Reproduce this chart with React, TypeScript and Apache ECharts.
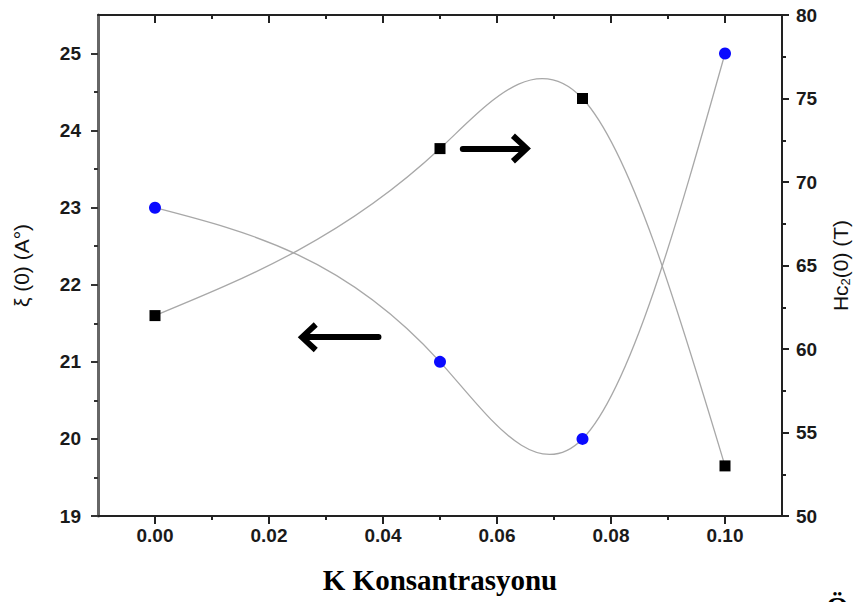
import React, { useEffect, useRef } from "react";
import * as echarts from "echarts";

const kValues = [0.0, 0.05, 0.075, 0.1];
const xiValues = [23, 21, 20, 25];
const hc2Values = [62, 72, 75, 53];
const xMajorTicks = [0.0, 0.02, 0.04, 0.06, 0.08, 0.1];
const xMinorTicks = [0.01, 0.03, 0.05, 0.07, 0.09];
const xiMajorTicks = [19, 20, 21, 22, 23, 24, 25];
const xiMinorTicks = [19.5, 20.5, 21.5, 22.5, 23.5, 24.5];
const rightArrow = [[0.054, 72], [0.0642, 72]];
const leftArrow = [[0.0392, 21.32], [0.0268, 21.32]];

const FONT = "'Liberation Sans', Arial, sans-serif";
const SERIF = "'Liberation Serif', 'Times New Roman', serif";
const CHEVRON = "path://M15,0 L30,16 L25.5,20 L15,8.5 L4.5,20 L0,16 Z";

// Natural cubic spline: node slopes, used to draw each segment as an exact cubic Bezier
function splineSlopes(xs: number[], ys: number[]): number[] {
  const n = xs.length;
  const h: number[] = [];
  for (let i = 0; i < n - 1; i++) h.push(xs[i + 1] - xs[i]);
  const M = new Array(n).fill(0);
  if (n > 2) {
    const m = n - 2;
    const a: number[] = [], b: number[] = [], c: number[] = [], d: number[] = [];
    for (let j = 0; j < m; j++) {
      const i = j + 1;
      a.push(h[i - 1]);
      b.push(2 * (h[i - 1] + h[i]));
      c.push(h[i]);
      d.push(6 * ((ys[i + 1] - ys[i]) / h[i] - (ys[i] - ys[i - 1]) / h[i - 1]));
    }
    for (let j = 1; j < m; j++) {
      const w = a[j] / b[j - 1];
      b[j] -= w * c[j - 1];
      d[j] -= w * d[j - 1];
    }
    const sol = new Array(m).fill(0);
    sol[m - 1] = d[m - 1] / b[m - 1];
    for (let j = m - 2; j >= 0; j--) sol[j] = (d[j] - c[j] * sol[j + 1]) / b[j];
    for (let j = 0; j < m; j++) M[j + 1] = sol[j];
  }
  const s: number[] = [];
  for (let i = 0; i < n - 1; i++) s.push((ys[i + 1] - ys[i]) / h[i] - (h[i] * (2 * M[i] + M[i + 1])) / 6);
  const k = n - 2;
  s.push((ys[k + 1] - ys[k]) / h[k] + (h[k] * (M[k] + 2 * M[k + 1])) / 6);
  return s;
}

function splineSeries(xs: number[], ys: number[], yAxisIndex: number) {
  const slopes = splineSlopes(xs, ys);
  return {
    type: "custom",
    coordinateSystem: "cartesian2d",
    xAxisIndex: 0,
    yAxisIndex,
    silent: true,
    z: 2,
    data: xs.map((x, i) => [x, ys[i]]),
    renderItem: (params: any, api: any) => {
      const i = params.dataIndex;
      if (i >= xs.length - 1) return null;
      const hh = xs[i + 1] - xs[i];
      const p0 = api.coord([xs[i], ys[i]]);
      const p1 = api.coord([xs[i] + hh / 3, ys[i] + (slopes[i] * hh) / 3]);
      const p2 = api.coord([xs[i + 1] - hh / 3, ys[i + 1] - (slopes[i + 1] * hh) / 3]);
      const p3 = api.coord([xs[i + 1], ys[i + 1]]);
      return {
        type: "bezierCurve",
        shape: { x1: p0[0], y1: p0[1], cpx1: p1[0], cpy1: p1[1], cpx2: p2[0], cpy2: p2[1], x2: p3[0], y2: p3[1] },
        style: { stroke: "#a8a8a8", lineWidth: 1.3, fill: null },
      };
    },
  };
}

export default function App() {
  const ref = useRef<HTMLDivElement>(null);
  useEffect(() => {
    if (!ref.current) return;
    const chart = echarts.init(ref.current, null, { renderer: "svg" });
    const axisLine = { show: true, onZero: false, lineStyle: { color: "#222", width: 2 } };
    const lbl = { color: "#1a1a1a", fontSize: 19, fontWeight: "bold", fontFamily: FONT };
    const xBase = { type: "value", min: -0.01, max: 0.11, splitLine: { show: false } };
    const arrowLine = (coords: number[][]) => ({
      silent: true,
      symbol: ["none", CHEVRON],
      symbolSize: [30, 20],
      label: { show: false },
      lineStyle: { color: "#000", width: 6, type: "solid", cap: "round", opacity: 1 },
      itemStyle: { color: "#000", opacity: 1 },
      emphasis: { disabled: true },
      data: [[{ coord: coords[0] }, { coord: coords[1] }]],
    });
    chart.setOption({
      animation: false,
      grid: { left: 98, right: 79, top: 15, bottom: 86, containLabel: false },
      xAxis: [
        {
          ...xBase,
          position: "bottom",
          axisLine,
          axisTick: { show: true, length: 8, customValues: xMajorTicks, lineStyle: { color: "#222", width: 2 } },
          axisLabel: {
            ...lbl,
            margin: 10,
            customValues: xMajorTicks,
            formatter: (v: number) => v.toFixed(2),
          },
          name: "K Konsantrasyonu",
          nameLocation: "middle",
          nameGap: 49,
          nameTextStyle: { fontFamily: SERIF, fontWeight: "bold", fontSize: 29, color: "#000" },
        },
        {
          ...xBase,
          position: "bottom",
          axisLine: { show: false, onZero: false },
          axisTick: { show: true, length: 4, customValues: xMinorTicks, lineStyle: { color: "#222", width: 2 } },
          axisLabel: { show: false },
        },
        {
          ...xBase,
          position: "top",
          axisLine,
          axisTick: { show: true, inside: true, length: 8, customValues: xMajorTicks, lineStyle: { color: "#222", width: 2 } },
          axisLabel: { show: false },
        },
        {
          ...xBase,
          position: "top",
          axisLine: { show: false, onZero: false },
          axisTick: { show: true, inside: true, length: 4, customValues: xMinorTicks, lineStyle: { color: "#222", width: 2 } },
          axisLabel: { show: false },
        },
      ],
      yAxis: [
        {
          type: "value",
          position: "left",
          min: 19,
          max: 25.5,
          splitLine: { show: false },
          axisLine: { show: true, onZero: false, lineStyle: { color: "#666", width: 3 } },
          axisTick: { show: true, length: 7, customValues: xiMajorTicks, lineStyle: { color: "#333", width: 2 } },
          axisLabel: { ...lbl, margin: 17, customValues: xiMajorTicks },
          name: "ξ (0) (A°)",
          nameLocation: "middle",
          nameRotate: 90,
          nameGap: 66,
          nameTextStyle: { fontFamily: FONT, fontSize: 21, color: "#111" },
        },
        {
          type: "value",
          position: "left",
          min: 19,
          max: 25.5,
          splitLine: { show: false },
          axisLine: { show: false, onZero: false },
          axisTick: { show: true, length: 4, customValues: xiMinorTicks, lineStyle: { color: "#333", width: 2 } },
          axisLabel: { show: false },
        },
        {
          type: "value",
          position: "right",
          min: 50,
          max: 80,
          interval: 5,
          splitLine: { show: false },
          axisLine,
          axisTick: { show: true, length: 7, lineStyle: { color: "#222", width: 2 } },
          minorTick: { show: true, splitNumber: 2, length: 4, lineStyle: { color: "#222", width: 2 } },
          axisLabel: { ...lbl, margin: 14 },
          name: "Hc{sub|2}(0) (T)",
          nameLocation: "middle",
          nameRotate: 90,
          nameGap: 46,
          nameTextStyle: {
            fontFamily: FONT,
            fontSize: 21,
            color: "#111",
            rich: { sub: { fontFamily: FONT, fontSize: 13, color: "#111", padding: [11, 0, 0, 0] } },
          },
        },
      ],
      series: [
        splineSeries(kValues, xiValues, 0),
        splineSeries(kValues, hc2Values, 2),
        {
          name: "xi",
          type: "scatter",
          xAxisIndex: 0,
          yAxisIndex: 0,
          data: kValues.map((k, i) => [k, xiValues[i]]),
          symbol: "circle",
          symbolSize: 12,
          itemStyle: { color: "#0a0aff", opacity: 1 },
          z: 3,
          markLine: arrowLine(leftArrow),
        },
        {
          name: "hc2",
          type: "scatter",
          xAxisIndex: 0,
          yAxisIndex: 2,
          data: kValues.map((k, i) => [k, hc2Values[i]]),
          symbol: "rect",
          symbolSize: 11,
          itemStyle: { color: "#000", opacity: 1 },
          z: 3,
          markLine: arrowLine(rightArrow),
        },
      ],
      graphic: [
        {
          type: "text",
          left: 826,
          top: 592,
          style: { text: "Ö", font: "bold 29px 'Liberation Serif', serif", fill: "#000" },
        },
      ],
    });
    return () => chart.dispose();
  }, []);
  return (
    <div
      ref={ref}
      style={{ position: "fixed", left: 0, top: 0, width: 861, height: 602, background: "#fff" }}
    />
  );
}
